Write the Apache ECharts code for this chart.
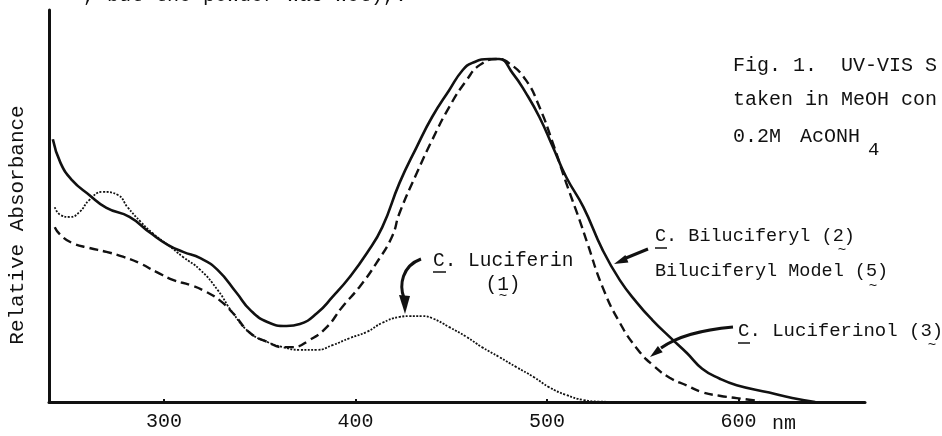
<!DOCTYPE html>
<html>
<head>
<meta charset="utf-8">
<script src="https://cdn.jsdelivr.net/npm/echarts@6/dist/echarts.min.js"></script>
<style>
  html, body { margin: 0; padding: 0; background: #fff; }
  #chart { width: 942px; height: 436px; }
</style>
</head>
<body>
<div id="chart"></div>
<script>
// wavelength (nm) / relative absorbance
const biluciferylNm = [242, 246, 252, 261, 270, 282, 293, 302, 310, 319, 328, 338, 345, 354, 364, 371, 380, 388, 397, 406, 414, 423, 432, 440, 449, 456, 461, 470, 475, 482, 489, 496, 503, 510, 519, 529, 538, 547, 555, 564, 573, 581, 590, 599, 616, 628, 640]
const biluciferylAbs = [0.67, 0.61, 0.566, 0.528, 0.495, 0.472, 0.431, 0.401, 0.383, 0.367, 0.337, 0.278, 0.235, 0.204, 0.194, 0.199, 0.227, 0.268, 0.319, 0.38, 0.446, 0.559, 0.651, 0.727, 0.796, 0.847, 0.865, 0.875, 0.875, 0.839, 0.788, 0.727, 0.651, 0.574, 0.497, 0.388, 0.311, 0.253, 0.209, 0.166, 0.125, 0.085, 0.06, 0.043, 0.024, 0.01, 0]

const luciferinolNm = [243, 246, 252, 261, 270, 279, 287, 296, 305, 314, 322, 329, 336, 345, 354, 362, 367, 376, 385, 393, 402, 411, 419, 423, 432, 440, 449, 458, 465, 474, 480, 489, 496, 503, 510, 517, 521, 529, 538, 547, 555, 564, 573, 581, 590, 599, 611]
const luciferinolAbs = [0.446, 0.426, 0.406, 0.393, 0.383, 0.37, 0.355, 0.332, 0.311, 0.298, 0.281, 0.26, 0.227, 0.176, 0.153, 0.14, 0.14, 0.158, 0.191, 0.242, 0.293, 0.355, 0.421, 0.482, 0.584, 0.668, 0.753, 0.821, 0.86, 0.875, 0.865, 0.821, 0.753, 0.661, 0.559, 0.464, 0.406, 0.293, 0.202, 0.136, 0.095, 0.062, 0.042, 0.025, 0.016, 0.01, 0.002]

const luciferinNm = [243, 246, 251, 256, 261, 268, 276, 281, 288, 294, 302, 310, 319, 328, 336, 345, 354, 362, 371, 380, 388, 397, 406, 414, 423, 428, 435, 440, 449, 458, 466, 475, 484, 493, 501, 510, 519, 527, 540]
const luciferinAbs = [0.497, 0.477, 0.472, 0.485, 0.515, 0.536, 0.528, 0.497, 0.459, 0.431, 0.401, 0.37, 0.337, 0.286, 0.227, 0.176, 0.153, 0.14, 0.133, 0.133, 0.145, 0.163, 0.179, 0.202, 0.217, 0.219, 0.219, 0.214, 0.191, 0.166, 0.14, 0.115, 0.089, 0.064, 0.038, 0.018, 0.005, 0.001, 0]

const xTicks = [300, 400, 500, 600]

const FONT = '"Liberation Mono", "DejaVu Sans Mono", monospace'
const INK = '#111'

function pairs (xs, ys) {
  return xs.map((x, i) => [x, ys[i]])
}

function label (text, x, y, size, align) {
  return {
    type: 'text',
    x: x,
    y: y,
    style: {
      text: text,
      font: (size || 20) + 'px ' + FONT,
      fill: INK,
      align: align || 'left',
      textAlign: align || 'left',
      verticalAlign: 'middle',
      textVerticalAlign: 'middle'
    }
  }
}

function tilde (x, y) {
  return label('~', x, y, 14, 'center')
}

function underline (x1, x2, y) {
  return { type: 'line', shape: { x1: x1, y1: y, x2: x2, y2: y }, style: { stroke: INK, lineWidth: 1.5 } }
}

function head (pts) {
  return { type: 'polygon', shape: { points: pts }, style: { fill: INK } }
}

const chart = echarts.init(document.getElementById('chart'))

const option = {
  animation: false,
  backgroundColor: '#fff',
  grid: { left: 49, right: 77, top: 10, bottom: 34, containLabel: false, outerBoundsMode: 'none' },
  xAxis: {
    type: 'value',
    min: 240,
    max: 666,
    axisLine: { lineStyle: { color: INK, width: 3 } },
    axisTick: { customValues: xTicks, inside: true, length: 3, lineStyle: { color: INK, width: 2 } },
    axisLabel: {
      customValues: xTicks,
      color: INK,
      fontFamily: FONT,
      fontSize: 20,
      margin: 10
    },
    splitLine: { show: false }
  },
  yAxis: {
    type: 'value',
    min: 0,
    max: 1,
    name: 'Relative Absorbance',
    nameLocation: 'middle',
    nameRotate: 90,
    nameGap: 21,
    nameTextStyle: { color: INK, fontFamily: FONT, fontSize: 21, padding: [0, 38, 0, 0] },
    axisLine: { show: true, lineStyle: { color: INK, width: 3 } },
    axisTick: { show: false },
    axisLabel: { show: false },
    splitLine: { show: false }
  },
  series: [
    {
      name: 'C. Biluciferyl (2)',
      type: 'line',
      data: pairs(biluciferylNm, biluciferylAbs),
      showSymbol: false,
      smooth: 0.5,
      lineStyle: { color: INK, width: 2.6, type: 'solid' }
    },
    {
      name: 'C. Luciferinol (3)',
      type: 'line',
      data: pairs(luciferinolNm, luciferinolAbs),
      showSymbol: false,
      smooth: 0.5,
      lineStyle: { color: INK, width: 2.4, type: [9, 5] }
    },
    {
      name: 'C. Luciferin (1)',
      type: 'line',
      data: pairs(luciferinNm, luciferinAbs),
      showSymbol: false,
      smooth: 0.5,
      lineStyle: { color: INK, width: 1.8, type: [2, 1.5] }
    }
  ],
  graphic: [
    // text of the page above, cut off by the crop
    {
      type: 'text',
      x: 83,
      y: -14,
      style: { text: ', but the powder was wet),.', font: '20px ' + FONT, fill: INK, verticalAlign: 'top', textVerticalAlign: 'top' }
    },
    label('Fig. 1.  UV-VIS S', 733, 66),
    label('taken in MeOH con', 733, 100),
    label('0.2M', 733, 137),
    label('AcONH', 800, 137),
    label('4', 868, 150, 19),
    label('nm', 772, 424),

    // C. Luciferin (1)
    label('C. Luciferin', 433, 261, 19.5),
    underline(433, 446, 272),
    label('(1)', 503, 285, 19.5, 'center'),
    tilde(503, 296),
    {
      type: 'bezierCurve',
      shape: { x1: 421, y1: 259, cpx1: 402, cpy1: 266, cpx2: 399, cpy2: 285, x2: 404, y2: 298 },
      style: { stroke: INK, lineWidth: 3, fill: 'none' }
    },
    head([[399, 295], [410, 296], [405, 314]]),

    // C. Biluciferyl (2) / Model (5)
    label('C. Biluciferyl (2)', 655, 236, 18.5),
    underline(655, 667, 248),
    tilde(842, 250),
    label('Biluciferyl Model (5)', 655, 271, 18.5),
    tilde(873, 286),
    { type: 'line', shape: { x1: 648, y1: 249, x2: 626, y2: 258 }, style: { stroke: INK, lineWidth: 3 } },
    head([[628.4, 262.4], [625.4, 255.0], [614, 264]]),

    // C. Luciferinol (3)
    label('C. Luciferinol (3)', 738, 331, 19),
    underline(738, 750, 343),
    tilde(932, 345),
    {
      type: 'bezierCurve',
      shape: { x1: 733, y1: 327, cpx1: 700, cpy1: 330, cpx2: 678, cpy2: 336, x2: 661, y2: 348 },
      style: { stroke: INK, lineWidth: 3, fill: 'none' }
    },
    head([[662.7, 352.3], [657.9, 345.9], [650, 357]])
  ]
}

chart.setOption(option)
</script>
</body>
</html>
